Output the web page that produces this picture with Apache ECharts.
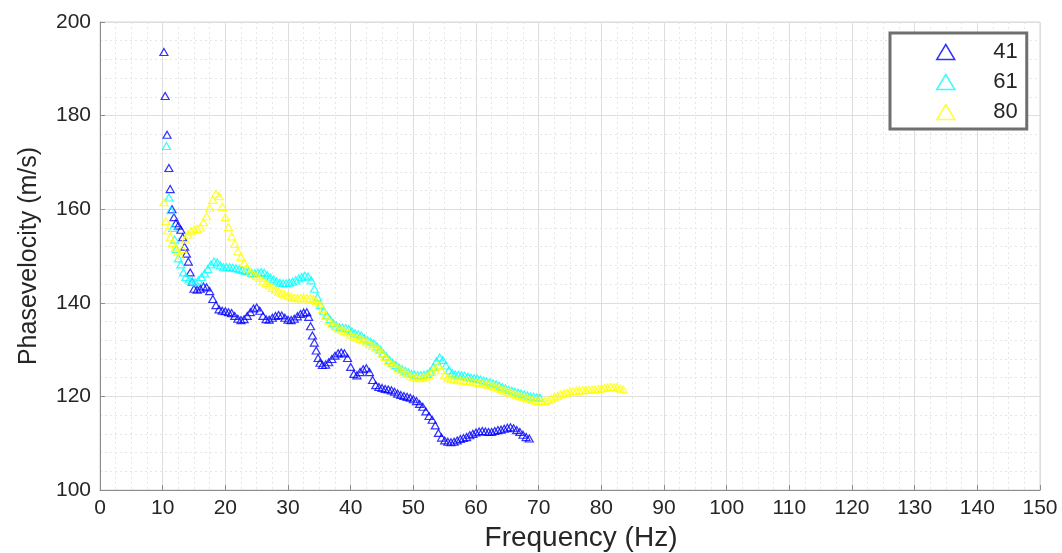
<!DOCTYPE html>
<html>
<head>
<meta charset="utf-8">
<script src="https://cdn.jsdelivr.net/npm/echarts@6/dist/echarts.min.js"></script>
<style>
html,body{margin:0;padding:0;background:#fff;}
#chart{width:1062px;height:553px;}
</style>
</head>
<body>
<div id="chart"></div>
<script>
// Legend / series names
var seriesNames = ['41', '61', '80'];

// Series 41: [frequency Hz, phase velocity m/s]
var data41 = [
[10.2,193.6],[10.4,184.2],[10.7,175.9],[11.0,168.8],[11.2,164.3],[11.5,160],[11.8,158.3],[12.1,157],[12.5,156.5],[12.9,155.6],
[13.2,154],[13.5,152],[13.8,150.5],[14.1,148.8],[14.4,146.5],[14.7,144.5],[15.0,143],[15.5,142.8],[16.0,143],[16.5,143.5],
[17.0,143.3],[17.5,142.5],[18.0,140.8],[18.5,139.5],[19.0,138.6],[19.5,138.3],[20.0,138.2],[20.5,138],[21.0,137.8],[21.5,137.2],
[22.0,136.6],[22.5,136.3],[23.0,136.5],[23.5,137.2],[24.0,138],[24.5,138.8],[25.0,139],[25.5,138.3],[26.0,137.2],[26.5,136.5],
[27.0,136.4],[27.5,136.8],[28.0,137.2],[28.5,137.4],[29.0,137.3],[29.5,136.8],[30.0,136.4],[30.5,136.3],[31.0,136.6],[31.5,137.1],
[32.0,137.6],[32.5,137.9],[33.0,138],[33.3,137],[33.6,135],[33.9,133],[34.2,131.5],[34.5,129.8],[34.8,128.2],[35.1,127.2],
[35.5,126.7],[36.0,126.8],[36.5,127.3],[37.0,128],[37.5,128.7],[38.0,129.2],[38.5,129.4],[39.0,129.2],[39.5,128.2],[40.0,126.3],
[40.5,124.8],[41.0,124.5],[41.5,125.2],[42.0,125.8],[42.5,126],[43.0,125.2],[43.5,123.5],[44.0,122.4],[44.5,122],[45.0,121.8],
[45.5,121.6],[46.0,121.5],[46.5,121.3],[47.0,121],[47.5,120.6],[48.0,120.3],[48.5,120.1],[49.0,119.9],[49.5,119.7],[50.0,119.4],
[50.5,119],[51.0,118.4],[51.5,117.8],[52.0,116.8],[52.5,115.8],[53.0,115],[53.5,113.8],[54.0,112.2],[54.5,111.2],[55.0,110.6],
[55.5,110.3],[56.0,110.2],[56.5,110.3],[57.0,110.6],[57.5,110.9],[58.0,111.1],[58.5,111.3],[59.0,111.7],[59.5,112],[60.0,112.3],
[60.5,112.5],[61.0,112.6],[61.5,112.5],[62.0,112.4],[62.5,112.4],[63.0,112.6],[63.5,112.8],[64.0,112.9],[64.5,113.1],[65.0,113.3],
[65.5,113.4],[66.0,113.2],[66.5,112.8],[67.0,112.4],[67.5,111.8],[68.0,111.3],[68.5,111]
];

// Series 61
var data61 = [
[10.6,173.5],[11.0,162.5],[11.3,159.8],[11.6,156],[11.9,153.5],[12.2,151.5],[12.5,149.5],[12.9,148.2],[13.3,146.5],[13.7,145.5],
[14.2,145],[14.7,144.5],[15.2,144.4],[15.7,144.8],[16.2,145.5],[16.7,146.3],[17.2,147.2],[17.7,148.2],[18.2,148.8],[18.7,148.6],
[19.2,148],[19.7,147.6],[20.2,147.6],[20.7,147.6],[21.2,147.5],[21.7,147.4],[22.2,147.2],[22.7,147],[23.2,146.8],[23.7,146.7],
[24.2,146.4],[24.7,146.3],[25.2,146.5],[25.7,146.6],[26.2,146.4],[26.7,145.9],[27.2,145.4],[27.7,145],[28.2,144.6],[28.7,144.3],
[29.2,144.2],[29.7,144.2],[30.2,144.3],[30.7,144.5],[31.2,144.8],[31.7,145.2],[32.2,145.5],[32.7,145.8],[33.2,145.6],[33.7,144.8],
[34.2,143],[34.7,141.2],[35.2,139.5],[35.7,138.3],[36.2,137.3],[36.7,136.5],[37.2,135.7],[37.7,135.1],[38.2,134.8],[38.7,134.7],
[39.2,134.6],[39.7,134.4],[40.2,133.9],[40.7,133.5],[41.2,133.3],[41.7,133],[42.2,132.4],[42.7,132],[43.2,131.7],[43.7,131.3],
[44.2,130.7],[44.7,130],[45.2,129.2],[45.7,128.5],[46.2,127.8],[46.7,127.2],[47.2,126.7],[47.7,126.2],[48.2,125.8],[48.7,125.5],
[49.2,125.1],[49.7,124.8],[50.2,124.6],[50.7,124.5],[51.2,124.5],[51.7,124.6],[52.2,124.8],[52.7,125.3],[53.2,126.3],[53.7,127.5],
[54.2,128.3],[54.7,127.8],[55.2,126.6],[55.7,125.6],[56.2,125],[56.7,124.7],[57.2,124.6],[57.7,124.5],[58.2,124.4],[58.7,124.2],
[59.2,124],[59.7,123.9],[60.2,123.8],[60.7,123.6],[61.2,123.4],[61.7,123.2],[62.2,123],[62.7,122.8],[63.2,122.6],[63.7,122.3],
[64.2,122],[64.7,121.7],[65.2,121.4],[65.7,121.2],[66.2,121],[66.7,120.8],[67.2,120.6],[67.7,120.4],[68.2,120.2],[68.7,120],
[69.2,119.9],[69.7,119.8],[70.2,119.7]
];

// Series 80
var data80 = [
[10.2,161.5],[10.5,157.5],[10.8,155.5],[11.2,154],[11.6,152.8],[12.0,151.8],[12.4,151],[12.8,150],[13.2,151.5],[13.6,153.5],
[14.0,154.6],[14.5,155.3],[15.0,155.6],[15.5,155.8],[16.0,156.1],[16.5,157.2],[17.0,158.5],[17.5,160.3],[18.0,162],[18.5,163.3],
[19.0,162.8],[19.5,160.5],[20.0,158.3],[20.5,156.2],[21.0,154.2],[21.5,152.6],[22.0,151],[22.5,149.8],[23.0,148.5],[23.5,147.4],
[24.0,146.6],[24.5,146.1],[25.0,145.7],[25.5,145.3],[26.0,144.7],[26.5,144.2],[27.0,143.7],[27.5,143.2],[28.0,142.8],[28.5,142.4],
[29.0,142.1],[29.5,141.8],[30.0,141.5],[30.5,141.3],[31.0,141.1],[31.5,141],[32.0,141],[32.5,141],[33.0,141],[33.5,141],
[34.0,140.8],[34.5,140.4],[35.0,139.8],[35.5,138.7],[36.0,137.3],[36.5,136.2],[37.0,135.5],[37.5,135],[38.0,134.6],[38.5,134.3],
[39.0,134],[39.5,133.7],[40.0,133.2],[40.5,132.8],[41.0,132.6],[41.5,132.3],[42.0,132],[42.5,131.6],[43.0,131.2],[43.5,130.8],
[44.0,130.4],[44.5,130],[45.0,129.3],[45.5,128.4],[46.0,127.6],[46.5,127],[47.0,126.5],[47.5,126],[48.0,125.6],[48.5,125.2],
[49.0,124.8],[49.5,124.4],[50.0,124.1],[50.5,124],[51.0,123.9],[51.5,124],[52.0,124.2],[52.5,124.6],[53.0,125.3],[53.5,126.2],
[54.0,126.6],[54.5,125.6],[55.0,124.5],[55.5,124],[56.0,123.8],[56.5,123.6],[57.0,123.5],[57.5,123.4],[58.0,123.4],[58.5,123.3],
[59.0,123.2],[59.5,123.1],[60.0,123],[60.5,122.9],[61.0,122.8],[61.5,122.6],[62.0,122.5],[62.5,122.3],[63.0,122.1],[63.5,121.9],
[64.0,121.6],[64.5,121.3],[65.0,121],[65.5,120.8],[66.0,120.5],[66.5,120.3],[67.0,120.1],[67.5,119.9],[68.0,119.7],[68.5,119.5],
[69.0,119.3],[69.5,119.1],[70.0,119],[70.5,118.9],[71.0,119],[71.5,119.2],[72.0,119.5],[72.5,119.8],[73.0,120.1],[73.5,120.4],
[74.0,120.6],[74.5,120.8],[75.0,121],[75.5,121.1],[76.0,121.2],[76.5,121.3],[77.0,121.3],[77.5,121.4],[78.0,121.4],[78.5,121.5],
[79.0,121.5],[79.5,121.6],[80.0,121.7],[80.5,121.8],[81.0,121.9],[81.5,122],[82.0,122],[82.5,121.9],[83.0,121.7],[83.5,121.5]
];

// Axis settings
var xMin = 0, xMax = 150, xStep = 10;
var yMin = 100, yMax = 200, yStep = 20;
var xTitle = 'Frequency (Hz)';
var yTitle = 'Phasevelocity (m/s)';
var colors = ['#0000ff', '#00ffff', '#ffff00'];

var FONT = '"Liberation Sans", Arial, Helvetica, sans-serif';

var chart = echarts.init(document.getElementById('chart'), null, {renderer: 'canvas'});

function mkSeries(name, data, color) {
  return {
    name: name,
    type: 'scatter',
    data: data,
    symbol: 'triangle',
    symbolSize: [8, 7],
    itemStyle: {color: 'rgba(255,255,255,0)', borderColor: color, borderWidth: 1.2},
    emphasis: {disabled: true},
    animation: false
  };
}

var option = {
  animation: false,
  backgroundColor: '#ffffff',
  grid: {left: 100, right: 22, top: 22, bottom: 63, show: true, borderColor: '#d4d4d4', borderWidth: 1, backgroundColor: '#ffffff', containLabel: false, outerBoundsMode: 'none'},
  legend: {
    data: seriesNames,
    orient: 'vertical',
    left: 890,
    top: 33,
    padding: [8, 9, 6, 46],
    itemGap: 8,
    itemWidth: 18,
    itemHeight: 15,
    borderColor: '#6f6f6f',
    borderWidth: 3,
    backgroundColor: '#ffffff',
    itemStyle: {borderWidth: 1.5},
    formatter: '{t|{name}}',
    textStyle: {
      fontFamily: FONT, fontSize: 22, color: '#262626', lineHeight: 20,
      rich: {t: {fontFamily: FONT, fontSize: 22, color: '#262626', width: 58, align: 'right', lineHeight: 20}}
    }
  },
  xAxis: {
    type: 'value',
    min: xMin, max: xMax, interval: xStep,
    name: xTitle,
    nameLocation: 'middle',
    nameGap: 30,
    nameTextStyle: {fontFamily: FONT, fontSize: 28, color: '#262626', padding: [0, 0, 0, 22]},
    axisLine: {show: true, lineStyle: {color: '#8c8c8c', width: 1}},
    axisTick: {show: true, inside: true, length: 5, lineStyle: {color: '#8c8c8c'}},
    axisLabel: {fontFamily: FONT, fontSize: 21, color: '#262626', margin: 8},
    splitLine: {show: true, lineStyle: {color: '#dedede', width: 1}},
    minorTick: {show: false, splitNumber: 4},
    minorSplitLine: {show: true, lineStyle: {color: '#e6e6e6', width: 1, type: [2, 3]}}
  },
  yAxis: {
    type: 'value',
    min: yMin, max: yMax, interval: yStep,
    name: yTitle,
    nameLocation: 'middle',
    nameGap: 58,
    nameTextStyle: {fontFamily: FONT, fontSize: 25, color: '#262626'},
    axisLine: {show: true, lineStyle: {color: '#8c8c8c', width: 1}},
    axisTick: {show: true, inside: true, length: 5, lineStyle: {color: '#8c8c8c'}},
    axisLabel: {fontFamily: FONT, fontSize: 21, color: '#262626', margin: 9},
    splitLine: {show: true, lineStyle: {color: '#dedede', width: 1}},
    minorTick: {show: false, splitNumber: 5},
    minorSplitLine: {show: true, lineStyle: {color: '#e6e6e6', width: 1, type: [2, 3]}}
  },
  series: [
    mkSeries(seriesNames[0], data41, colors[0]),
    mkSeries(seriesNames[1], data61, colors[1]),
    mkSeries(seriesNames[2], data80, colors[2])
  ]
};
chart.setOption(option);
</script>
</body>
</html>
